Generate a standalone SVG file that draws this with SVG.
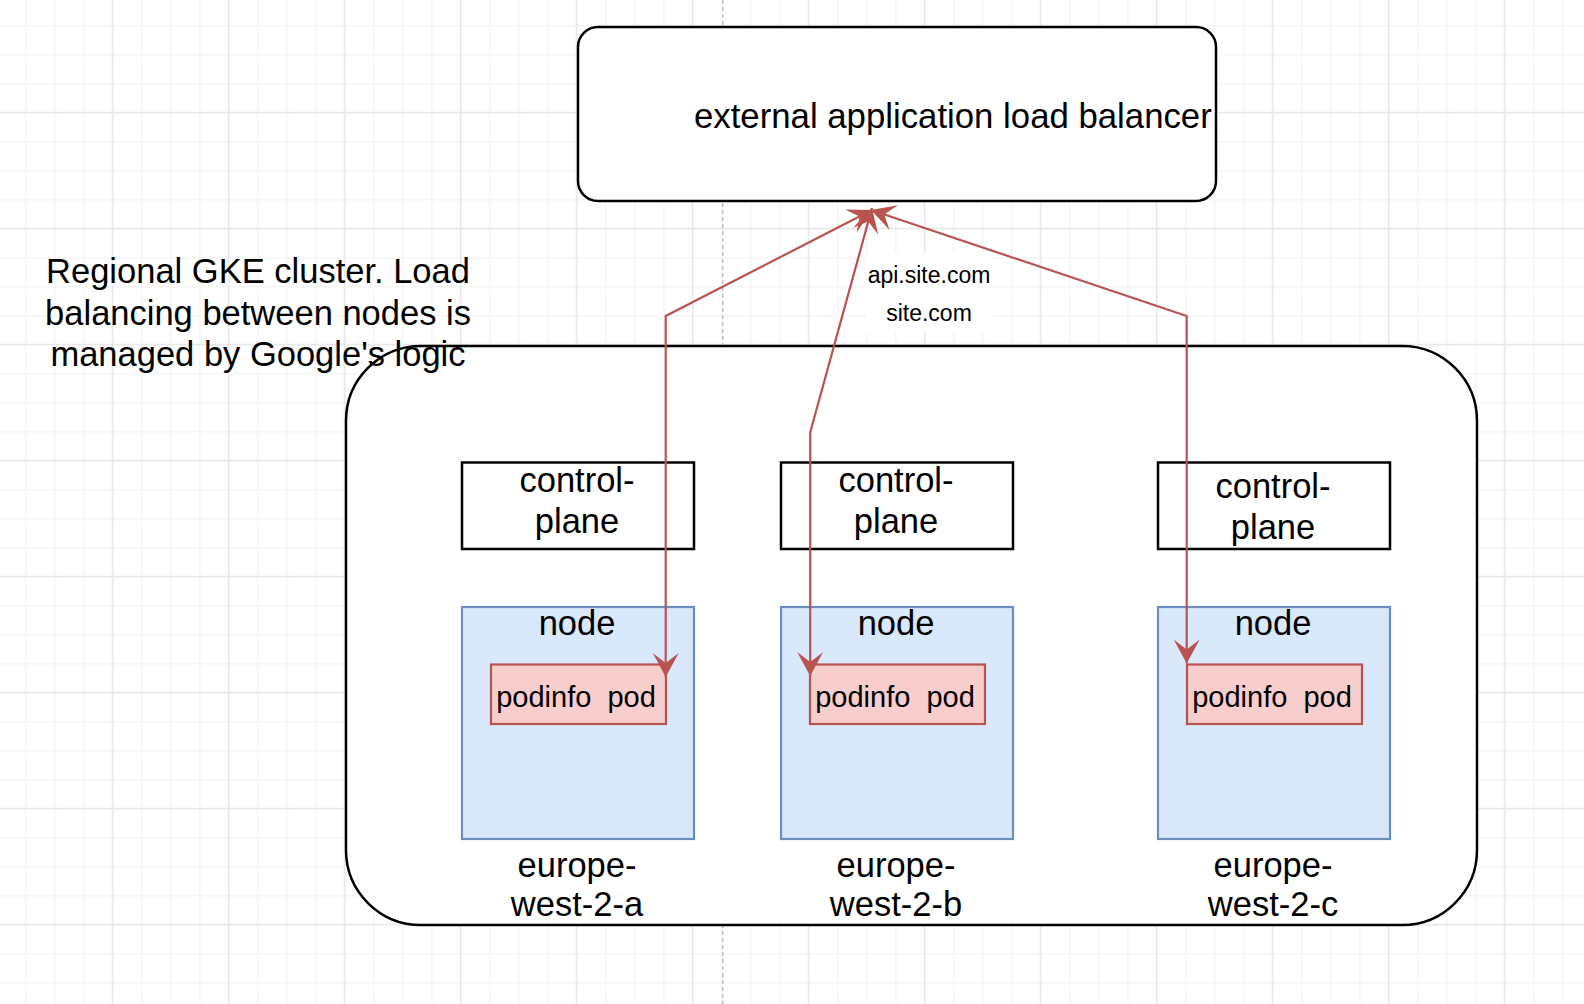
<svg xmlns="http://www.w3.org/2000/svg" width="1584" height="1004" viewBox="0 0 1584 1004">
<defs>
<style>
.box{fill:#ffffff;stroke:#000000;stroke-width:2.5}
.nd{fill:#dae8fc;stroke:#6c8ebf;stroke-width:2.2}
.pod{fill:#f8cecc;stroke:#b85450;stroke-width:2.2}
.t{font-family:"Liberation Sans",Arial,Helvetica,sans-serif;font-size:34.5px;fill:#000000;text-anchor:middle}
.tp{font-size:29px}
.tl{font-size:23px}
.edge{fill:none;stroke:#b85450;stroke-width:2.2}
</style>
<pattern id="grid" patternUnits="userSpaceOnUse" x="-17.8" y="-17.8" width="116" height="116">
<path d="M43.5 0V116M72.5 0V116M101.5 0V116M0 43.5H116M0 72.5H116M0 101.5H116" stroke="#f4f4f4" stroke-width="1.5" fill="none"/>
<path d="M14.5 0V116M0 14.5H116" stroke="#e5e5e5" stroke-width="1.5" fill="none"/>
</pattern>
<marker id="arrow" markerUnits="userSpaceOnUse" viewBox="0 0 24 26" markerWidth="24" markerHeight="26" refX="24" refY="13" orient="auto-start-reverse">
<path d="M0 0L24 13L0 26L10 13Z" fill="#b85450"/>
</marker>
</defs>
<rect x="0" y="0" width="1584" height="1004" fill="#ffffff"/>
<rect x="0" y="0" width="1584" height="1004" fill="url(#grid)"/>
<line x1="722.7" y1="0" x2="722.7" y2="1004" stroke="#c0c0c0" stroke-width="1.5" stroke-dasharray="4 3"/>

<g id="load-balancer">
<rect class="box" x="578" y="27" width="638" height="174" rx="20" ry="20"/>
<text class="t" x="694" y="128" style="text-anchor:start;font-size:34.75px">external application load balancer</text>
</g>

<g id="cluster">
<rect class="box" x="346" y="346" width="1131" height="579" rx="75" ry="75"/>
</g>

<g id="cluster-note">
<text class="t" x="258" y="283">Regional GKE cluster. Load</text>
<text class="t" x="258" y="324.5">balancing between nodes is</text>
<text class="t" x="258" y="366">managed by Google's logic</text>
</g>

<g id="control-plane-a">
<rect class="box" x="462" y="462.5" width="232" height="86.5"/>
<text class="t" x="577" y="492">control-</text>
<text class="t" x="577" y="533">plane</text>
</g>
<g id="control-plane-b">
<rect class="box" x="781" y="462.5" width="232" height="86.5"/>
<text class="t" x="896" y="492">control-</text>
<text class="t" x="896" y="533">plane</text>
</g>
<g id="control-plane-c">
<rect class="box" x="1158" y="462.5" width="232" height="86.5"/>
<text class="t" x="1273" y="498">control-</text>
<text class="t" x="1273" y="539">plane</text>
</g>

<g id="node-a">
<rect class="nd" x="462" y="607" width="232" height="232"/>
<text class="t" x="577" y="635">node</text>
<text class="t" x="577" y="876.5">europe-</text>
<text class="t" x="577" y="915.5">west-2-a</text>
</g>
<g id="node-b">
<rect class="nd" x="781" y="607" width="232" height="232"/>
<text class="t" x="896" y="635">node</text>
<text class="t" x="896" y="876.5">europe-</text>
<text class="t" x="896" y="915.5">west-2-b</text>
</g>
<g id="node-c">
<rect class="nd" x="1158" y="607" width="232" height="232"/>
<text class="t" x="1273" y="635">node</text>
<text class="t" x="1273" y="876.5">europe-</text>
<text class="t" x="1273" y="915.5">west-2-c</text>
</g>

<g id="pod-a">
<rect class="pod" x="491" y="664.5" width="175" height="59.5"/>
<text class="t tp" x="576" y="707" xml:space="preserve">podinfo  pod</text>
</g>
<g id="pod-b">
<rect class="pod" x="810" y="664.5" width="175" height="59.5"/>
<text class="t tp" x="895" y="707" xml:space="preserve">podinfo  pod</text>
</g>
<g id="pod-c">
<rect class="pod" x="1187" y="664.5" width="175" height="59.5"/>
<text class="t tp" x="1272" y="707" xml:space="preserve">podinfo  pod</text>
</g>

<g id="connectors">
<path class="edge" d="M665.7 677 L665.7 316 L872 210" marker-start="url(#arrow)" marker-end="url(#arrow)"/>
<path class="edge" d="M810.2 676 L810.2 432.4 L872 208" marker-start="url(#arrow)" marker-end="url(#arrow)"/>
<path class="edge" d="M1186.7 663.5 L1186.7 316 L871 210" marker-start="url(#arrow)" marker-end="url(#arrow)"/>
<rect x="866" y="253" width="127" height="80" fill="#ffffff"/>
<text class="t tl" x="929" y="283">api.site.com</text>
<text class="t tl" x="929" y="321">site.com</text>
</g>
</svg>
